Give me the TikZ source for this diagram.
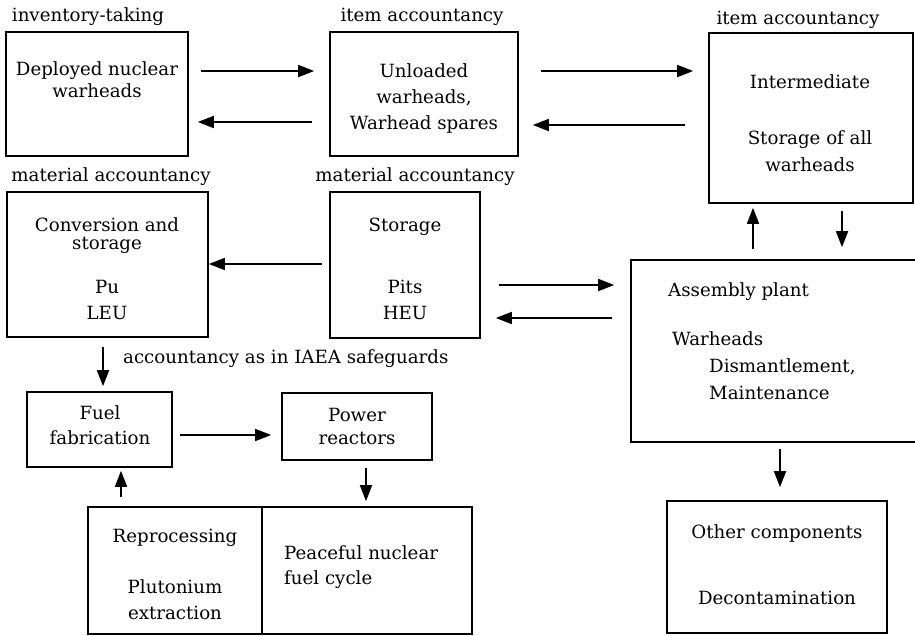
\documentclass[tikz,border=0pt]{standalone}
\usepackage{fontspec}
\setmainfont{DejaVu Serif}
\usetikzlibrary{arrows.meta}
\tikzset{
  box/.style={draw, line width=1.6pt, inner sep=0pt, anchor=center},
  lbl/.style={inner sep=0pt, font=\fontsize{18.2}{20}\selectfont},
  txt/.style={inner sep=0pt, font=\fontsize{18.2}{20}\selectfont, align=center},
  txl/.style={inner sep=0pt, font=\fontsize{18.2}{20}\selectfont, anchor=west},
  arr/.style={line width=1.7pt, -{Triangle[length=16pt,width=12pt]}}
}
\begin{document}
\begin{tikzpicture}[x=1pt,y=-1pt]
\useasboundingbox[fill=white] (0,0) rectangle (915,635);
% boxes
\node[box, minimum width=182, minimum height=124] (b1) at (97,94) {};
\node[box, minimum width=188, minimum height=124] (b2) at (424,94) {};
\node[box, minimum width=204, minimum height=170] (b3) at (811,118) {};
\node[box, minimum width=201, minimum height=145] (b4) at (107.5,264.5) {};
\node[box, minimum width=150, minimum height=146] (b5) at (405,265) {};
\node[box, minimum width=300, minimum height=182] (b6) at (781,351) {};
\node[box, minimum width=145, minimum height=75] (b7) at (99.5,429.5) {};
\node[box, minimum width=150, minimum height=67] (b8) at (357,426.5) {};
\node[box, minimum width=174, minimum height=127] (b9) at (175,570.5) {};
\node[box, minimum width=210, minimum height=127] (b10) at (367,570.5) {};
\node[box, minimum width=220, minimum height=132] (b11) at (777,567) {};
% labels above
\node[lbl] (l1) at (88,17) {inventory-taking};
\node[lbl] (l2) at (422,17) {item accountancy};
\node[lbl] (l3) at (798,20) {item accountancy};
\node[lbl] (l4) at (111,177) {material accountancy};
\node[lbl] (l5) at (415,177) {material accountancy};
\node[lbl, anchor=west] (l6) at (123,359) {accountancy as in IAEA safeguards};
% box texts
\node[txt] (t1a) at (97,71) {Deployed nuclear};
\node[txt] (t1b) at (97,91) {warheads};
\node[txt] (t2a) at (424,71) {Unloaded};
\node[txt] (t2b) at (424,98) {warheads,};
\node[txt] (t2c) at (424,124) {Warhead spares};
\node[txt] (t3a) at (810,82) {Intermediate};
\node[txt] (t3b) at (810,140) {Storage of all};
\node[txt] (t3c) at (810,165) {warheads};
\node[txt] (t4a) at (107,225) {Conversion and};
\node[txt] (t4b) at (107,245) {storage};
\node[txt] (t4c) at (107,287) {Pu};
\node[txt] (t4d) at (107,313) {LEU};
\node[txt] (t5a) at (405,227) {Storage};
\node[txt] (t5b) at (405,287) {Pits};
\node[txt] (t5c) at (405,313) {HEU};
\node[txl] (t6a) at (668,292) {Assembly plant};
\node[txl] (t6b) at (672,339) {Warheads};
\node[txl] (t6c) at (709,367) {Dismantlement,};
\node[txl] (t6d) at (709,393) {Maintenance};
\node[txt] (t7a) at (100,413) {Fuel};
\node[txt] (t7b) at (100,438) {fabrication};
\node[txt] (t8a) at (357,415) {Power};
\node[txt] (t8b) at (357,438) {reactors};
\node[txt] (t9a) at (175,538) {Reprocessing};
\node[txt] (t9b) at (175,587) {Plutonium};
\node[txt] (t9c) at (175,613) {extraction};
\node[txl] (t10a) at (284,553) {Peaceful nuclear};
\node[txl] (t10b) at (284,580) {fuel cycle};
\node[txt] (t11a) at (777,533) {Other components};
\node[txt] (t11b) at (777,598) {Decontamination};
% arrows
\draw[arr] ([xshift=12]b1.east |- 0,71) -- ([xshift=-15]b2.west |- 0,71);
\draw[arr] ([xshift=-17]b2.west |- 0,122) -- ([xshift=9]b1.east |- 0,122);
\draw[arr] ([xshift=22]b2.east |- 0,71) -- ([xshift=-15]b3.west |- 0,71);
\draw[arr] ([xshift=-23]b3.west |- 0,125) -- ([xshift=14]b2.east |- 0,125);
\draw[arr] ([yshift=10]b6.north -| 753,0) -- ([yshift=-4]b3.south -| 753,0);
\draw[arr] ([yshift=-7]b3.south -| 842,0) -- ([yshift=12]b6.north -| 842,0);
\draw[arr] ([xshift=-7]b5.west |- 0,264) -- (b4.east |- 0,264);
\draw[arr] ([xshift=18]b5.east |- 0,285) -- ([xshift=-16]b6.west |- 0,285);
\draw[arr] ([xshift=-18]b6.west |- 0,318) -- ([xshift=15]b5.east |- 0,318);
\draw[arr] ([yshift=-9]b4.south -| 103,0) -- ([yshift=5]b7.north -| 103,0);
\draw[arr] ([xshift=7]b7.east |- 0,435) -- ([xshift=-10]b8.west |- 0,435);
\draw[arr] ([yshift=-7]b8.south -| 366,0) -- ([yshift=5]b10.north -| 366,0);
\draw[arr] ([yshift=9]b9.north -| 121,0) -- ([yshift=-3]b7.south -| 121,0);
\draw[arr] ([yshift=-6]b6.south -| 780,0) -- ([yshift=13]b11.north -| 780,0);
\end{tikzpicture}
\end{document}
